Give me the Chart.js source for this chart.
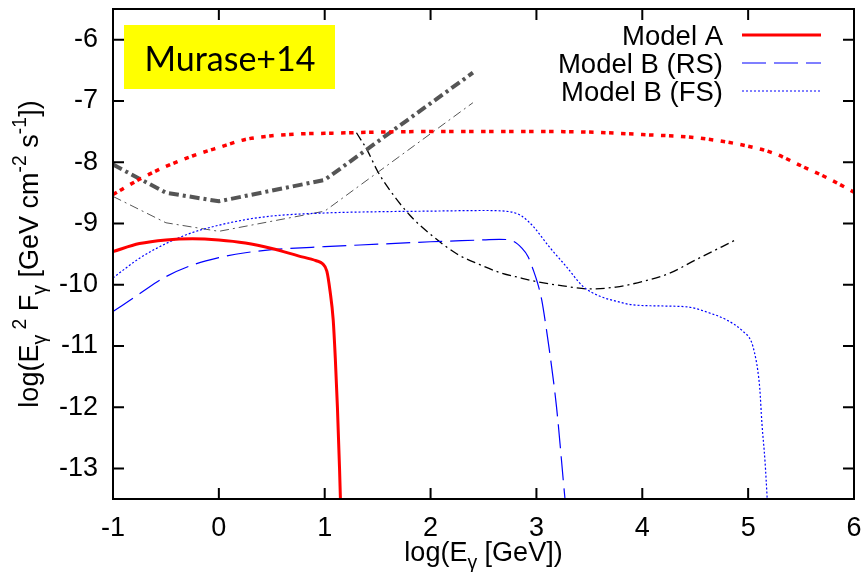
<!DOCTYPE html>
<html>
<head>
<meta charset="utf-8">
<script src="https://cdn.jsdelivr.net/npm/chart.js@4.4.0/dist/chart.umd.min.js"></script>
<style>
  html, body { margin: 0; padding: 0; background: #fff; }
</style>
</head>
<body>
<canvas id="myChart" width="867" height="572"></canvas>
<script>
// axis ticks
const xTicks = [-1, 0, 1, 2, 3, 4, 5, 6];
const yTicks = [-13, -12, -11, -10, -9, -8, -7, -6];

// Model A (red solid)
const modelAX = [-1, -0.75, -0.5, -0.25, 0, 0.25, 0.5, 0.75, 0.92, 0.98, 1.02, 1.05, 1.08, 1.1, 1.12, 1.14, 1.16];
const modelAY = [-9.46, -9.33, -9.27, -9.25, -9.27, -9.32, -9.41, -9.53, -9.61, -9.66, -9.78, -10.1, -10.57, -11.2, -12.0, -13.0, -14.2];

// Model B (RS) blue dashed
const rsX = [-1, -0.75, -0.5, -0.25, 0, 0.25, 0.5, 1, 1.5, 2, 2.5, 2.65, 2.78, 2.86, 2.92, 2.97, 3.01, 3.05, 3.09, 3.12, 3.19, 3.27, 3.3];
const rsY = [-10.44, -10.15, -9.87, -9.68, -9.56, -9.48, -9.43, -9.38, -9.34, -9.3, -9.27, -9.26, -9.29, -9.4, -9.54, -9.76, -9.97, -10.25, -10.68, -11.04, -12.0, -13.5, -14.0];

// Model B (FS) blue dotted
const fsX = [-1, -0.75, -0.5, -0.25, 0, 0.25, 0.5, 1, 1.5, 2, 2.5, 2.7, 2.8, 2.87, 2.97, 3.12, 3.28, 3.44, 3.6, 3.75, 3.91, 4.23, 4.45, 4.63, 4.79, 4.95, 5.03, 5.06, 5.09, 5.11, 5.13, 5.16, 5.18, 5.2];
const fsY = [-9.89, -9.57, -9.33, -9.15, -9.03, -8.94, -8.88, -8.83, -8.81, -8.8, -8.79, -8.8, -8.83, -8.89, -9.05, -9.38, -9.7, -10.03, -10.19, -10.27, -10.33, -10.35, -10.37, -10.46, -10.57, -10.76, -10.93, -11.11, -11.39, -11.7, -12.26, -12.9, -13.5, -14.2];

// red dotted (thick)
const dotX = [-1, -0.75, -0.5, -0.25, 0, 0.25, 0.5, 0.75, 1, 1.5, 2, 2.5, 3, 3.5, 4, 4.5, 5, 5.25, 5.5, 5.75, 6];
const dotY = [-8.53, -8.28, -8.07, -7.9, -7.76, -7.63, -7.57, -7.54, -7.53, -7.51, -7.5, -7.5, -7.5, -7.51, -7.55, -7.6, -7.74, -7.86, -8.06, -8.26, -8.49];

// grey dash-dot, thick and thin
const thickX = [-1, -0.5, 0, 1, 2.4];
const thickY = [-8.04, -8.5, -8.64, -8.29, -6.54];
const thinX = [-1, -0.5, 0, 1, 2.4];
const thinY = [-8.56, -8.99, -9.13, -8.8, -7.03];

// black dash-dot
const blackX = [1.3, 1.4, 1.5, 1.6, 1.8, 2.0, 2.25, 2.46, 2.65, 2.85, 3.0, 3.25, 3.5, 3.75, 4.0, 4.25, 4.5, 4.87];
const blackY = [-7.52, -7.8, -8.15, -8.42, -8.86, -9.18, -9.5, -9.67, -9.8, -9.89, -9.95, -10.02, -10.07, -10.04, -9.95, -9.82, -9.6, -9.28];

const legendLabels = ['Model A', 'Model B (RS)', 'Model B (FS)'];
const xTitle = [{t: 'log(E'}, {t: 'γ', s: 'sub'}, {t: ' [GeV])'}];
const yTitle = [{t: 'log(E'}, {t: 'γ', s: 'sub'}, {t: ' 2', s: 'sup'}, {t: ' F'}, {t: 'γ', s: 'sub'},
  {t: ' [GeV cm'}, {t: '-2', s: 'sup'}, {t: ' s'}, {t: '-1', s: 'sup'}, {t: '])'}];
const tagText = 'Murase+14';

const pts = (xs, ys) => xs.map((x, i) => ({x: x, y: ys[i]}));
const FONT = '"Liberation Sans", Arial, Helvetica, sans-serif';

function line(label, xs, ys, color, width, dash, smooth) {
  return {
    label: label,
    data: pts(xs, ys),
    showLine: true,
    borderColor: color,
    backgroundColor: color,
    borderWidth: width,
    borderDash: dash,
    pointRadius: 0,
    tension: 0,
    cubicInterpolationMode: smooth ? 'monotone' : 'default',
    fill: false
  };
}

const data = {
  datasets: [
    line(legendLabels[0], modelAX, modelAY, '#ff0000', 3, [], true),
    line(legendLabels[1], rsX, rsY, '#0000ff', 1.2, [24, 8], true),
    line(legendLabels[2], fsX, fsY, '#0000ff', 1.2, [2, 2], true),
    line('red dotted', dotX, dotY, '#ff0000', 3.5, [4.5, 3.5, 4.5, 7.5], true),
    line('grey thick', thickX, thickY, '#555555', 4, [10, 4, 3, 4], false),
    line('grey thin', thinX, thinY, '#555555', 1, [9, 4, 2, 4], false),
    line('black', blackX, blackY, '#000000', 1.3, [9, 4, 2, 4], true)
  ]
};

function drawRich(ctx, parts, x, y, size, align) {
  const f = (p) => ((p.s ? size * 0.72 : size) + 'px ' + FONT);
  let total = 0;
  parts.forEach(p => { ctx.font = f(p); total += ctx.measureText(p.t).width; });
  let cx = align === 'center' ? x - total / 2 : x;
  ctx.textAlign = 'left';
  ctx.textBaseline = 'alphabetic';
  parts.forEach(p => {
    ctx.font = f(p);
    const dy = p.s === 'sub' ? size * 0.3 : (p.s === 'sup' ? -size * 0.45 : 0);
    ctx.fillText(p.t, cx, y + dy);
    cx += ctx.measureText(p.t).width;
  });
}

const decor = {
  id: 'decor',
  afterDraw(chart) {
    const ctx = chart.ctx;
    const a = chart.chartArea;
    const xs = chart.scales.x, ys = chart.scales.y;
    ctx.save();
    // frame
    ctx.strokeStyle = '#000';
    ctx.lineWidth = 2;
    ctx.setLineDash([]);
    ctx.strokeRect(a.left, a.top, a.right - a.left, a.bottom - a.top);
    // inward ticks on all sides
    const tl = 11;
    ctx.beginPath();
    xTicks.forEach(v => {
      const px = xs.getPixelForValue(v);
      ctx.moveTo(px, a.bottom); ctx.lineTo(px, a.bottom - tl);
      ctx.moveTo(px, a.top); ctx.lineTo(px, a.top + tl);
    });
    yTicks.forEach(v => {
      const py = ys.getPixelForValue(v);
      ctx.moveTo(a.left, py); ctx.lineTo(a.left + tl, py);
      ctx.moveTo(a.right, py); ctx.lineTo(a.right - tl, py);
    });
    ctx.stroke();

    ctx.fillStyle = '#000';
    // axis titles
    drawRich(ctx, xTitle, (a.left + a.right) / 2, 561, 27, 'center');
    ctx.save();
    ctx.translate(38, (a.top + a.bottom) / 2);
    ctx.rotate(-Math.PI / 2);
    drawRich(ctx, yTitle, 0, 0, 27, 'center');
    ctx.restore();

    // legend
    const lx0 = 742, lx1 = 821, tx = 723;
    [35, 63, 91].forEach((ly, i) => {
      const ds = chart.data.datasets[i];
      ctx.font = '27.5px ' + FONT;
      ctx.textAlign = 'right';
      ctx.textBaseline = 'alphabetic';
      ctx.fillStyle = '#000';
      ctx.fillText(ds.label, tx, ly + 10);
      ctx.strokeStyle = ds.borderColor;
      ctx.lineWidth = ds.borderWidth;
      ctx.setLineDash(ds.borderDash);
      ctx.beginPath();
      ctx.moveTo(lx0, ly); ctx.lineTo(lx1, ly);
      ctx.stroke();
    });
    ctx.setLineDash([]);

    // yellow tag
    ctx.fillStyle = '#ffff00';
    ctx.fillRect(124, 25, 211, 64);
    ctx.fillStyle = '#000';
    ctx.font = '34px Lato, "Open Sans", sans-serif';
    ctx.textAlign = 'center';
    ctx.textBaseline = 'alphabetic';
    ctx.fillText(tagText, 230, 71);
    ctx.restore();
  }
};

const noPad = (s) => { s.paddingTop = 0; s.paddingBottom = 0; s.paddingLeft = 0; s.paddingRight = 0; };

const config = {
  type: 'scatter',
  data: data,
  options: {
    responsive: false,
    animation: false,
    events: [],
    layout: { padding: { top: 9, right: 13, left: 0, bottom: 0 } },
    plugins: { legend: { display: false }, tooltip: { enabled: false } },
    scales: {
      x: {
        type: 'linear',
        min: -1, max: 6,
        afterFit: (s) => { s.height = 73; noPad(s); },
        afterBuildTicks: (s) => { s.ticks = xTicks.map(v => ({value: v})); },
        grid: { display: false, drawTicks: false },
        border: { display: false },
        ticks: { color: '#000', padding: 13, font: { family: FONT, size: 27 }, maxRotation: 0 }
      },
      y: {
        type: 'linear',
        min: -13.5, max: -5.5,
        afterFit: (s) => { s.width = 113; noPad(s); },
        afterBuildTicks: (s) => { s.ticks = yTicks.map(v => ({value: v})); },
        grid: { display: false, drawTicks: false },
        border: { display: false },
        ticks: { color: '#000', padding: 15, font: { family: FONT, size: 27 } }
      }
    }
  },
  plugins: [decor]
};

const chart = new Chart(document.getElementById('myChart'), config);
</script>
</body>
</html>
